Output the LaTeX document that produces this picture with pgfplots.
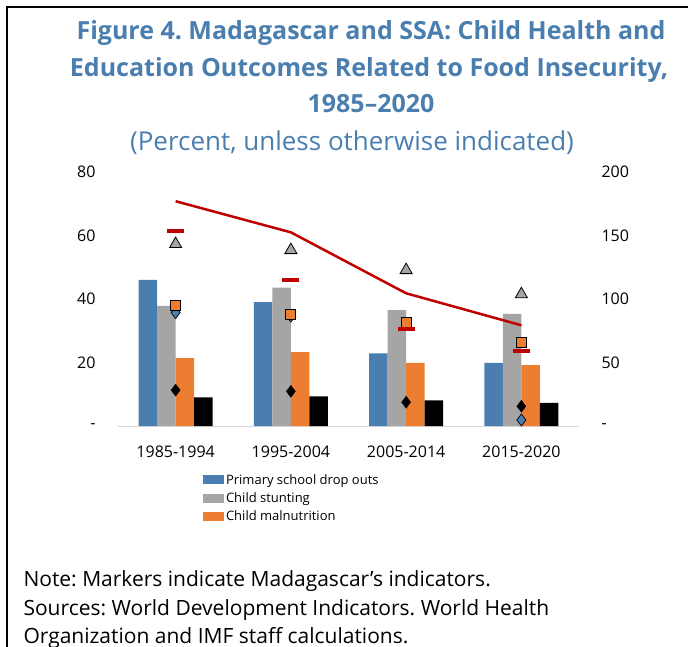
\documentclass[border=0pt]{standalone}
\usepackage{fontspec}
\setmainfont{Open Sans}
\usepackage{pgfplots}
\usepackage{pgfplotstable}
\pgfplotsset{compat=1.18}

\definecolor{ttl}{HTML}{4A7EAF}
\definecolor{cblue}{HTML}{4A7EB0}
\definecolor{cgray}{HTML}{A5A5A5}
\definecolor{corange}{HTML}{ED7D31}
\definecolor{cred}{HTML}{C00000}
\definecolor{base}{HTML}{D9D9D9}

% SSA averages (bars)
\pgfplotstableread{
x drop stunt maln other
0 46.0 37.8 21.4 9.0
1 39.0 43.6 23.3 9.3
2 22.9 36.5 19.9 8.1
3 19.9 35.3 19.2 7.3
}\ssa

% Madagascar (markers)
\pgfplotstableread{
x drop stunt maln other
0 35.7 57.3 38.1 11.3
1 34.6 55.4 35.1 10.9
2 32.0 49.1 32.6 7.5
3 1.9 41.5 26.4 6.2
}\mdg

% right axis: SSA line, Madagascar dashes
\pgfplotstableread{
x ssa mdg
0 177.0 153.5
1 152.5 115.2
2 104.5 76.6
3 79.3 59.3
}\mort

\pgfplotsset{
  sq legend/.style={legend image code/.code={\fill[##1] (0pt,-4.5pt) rectangle (21pt,4.5pt);}},
  frame/.style={scale only axis, width=461pt, height=254pt,
    at={(118pt,-426pt)}, anchor=south west, xmin=-0.5, xmax=3.5},
}

\begin{document}
\frenchspacing
\begin{tikzpicture}
\path[use as bounding box] (0,0) rectangle (688pt,-646pt);
\draw[line width=2pt] (7pt,-660pt) -- (7pt,-7pt) -- (700pt,-7pt);

\begin{axis}[frame,
  ymin=0, ymax=80,
  axis x line*=bottom, axis y line*=left,
  x axis line style={draw=base, line width=1pt},
  y axis line style={draw=none},
  major tick length=0pt,
  xtick={0,1,2,3},
  xticklabels={1985-1994,1995-2004,2005-2014,2015-2020},
  ytick={0,20,40,60,80},
  yticklabels={-,20,40,60,80},
  ticklabel style={font=\fontsize{16}{16}\selectfont},
  yticklabel style={xshift=-19pt},
  xticklabel style={yshift=-16pt},
  bar width=0.16,
  legend style={at={(0.184,-0.181)}, anchor=north west, draw=none,
    font=\fontsize{13}{13}\selectfont, row sep=3pt, inner sep=0pt,
    cells={anchor=west}},
]
\addplot[ybar, sq legend, fill=cblue, draw=none, bar shift=-0.24] table[x=x,y=drop]{\ssa};
\addlegendentry{Primary school drop outs}
\addplot[ybar, sq legend, fill=cgray, draw=none, bar shift=-0.08] table[x=x,y=stunt]{\ssa};
\addlegendentry{Child stunting}
\addplot[ybar, sq legend, fill=corange, draw=none, bar shift=0.08] table[x=x,y=maln]{\ssa};
\addlegendentry{Child malnutrition}
\addplot[ybar, fill=black, draw=none, bar shift=0.24, forget plot] table[x=x,y=other]{\ssa};

\addplot[only marks, mark=diamond*, mark size=6pt, forget plot,
  mark options={fill=cblue, draw=black, line width=0.7pt}] table[x=x,y=drop]{\mdg};
\addplot[only marks, mark=square*, mark size=5pt, forget plot,
  mark options={fill=corange, draw=black, line width=0.8pt}] table[x=x,y=maln]{\mdg};
\addplot[only marks, mark=triangle*, mark size=7pt, forget plot,
  mark options={fill=cgray, draw=black, line width=0.8pt}] table[x=x,y=stunt]{\mdg};
\addplot[only marks, mark=diamond*, mark size=6pt, forget plot,
  mark options={fill=black, draw=black}] table[x=x,y=other]{\mdg};
\end{axis}

\begin{axis}[frame,
  ymin=0, ymax=200,
  axis x line=none, axis y line*=right,
  y axis line style={draw=none},
  major tick length=0pt,
  ytick={0,50,100,150,200},
  yticklabels={-,50,100,150,200},
  ticklabel style={font=\fontsize{16}{16}\selectfont},
  yticklabel style={anchor=west, xshift=19pt},
]
\addplot[cred, line width=2.5pt, no marks] table[x=x,y=ssa]{\mort};
\addplot[only marks, mark=-, mark size=8.5pt,
  mark options={draw=cred, line width=4pt}] table[x=x,y=mdg]{\mort};
\end{axis}

\node[anchor=base, text=ttl, font=\fontsize{25}{25}\selectfont\bfseries] at (371pt,-39pt) {Figure 4. Madagascar and SSA: Child Health and};
\node[anchor=base, text=ttl, font=\fontsize{25}{25}\selectfont\bfseries] at (369pt,-76pt) {Education Outcomes Related to Food Insecurity,};
\node[anchor=base, text=ttl, font=\fontsize{25}{25}\selectfont\bfseries] at (371pt,-112pt) {1985–2020};
\node[anchor=base, text=ttl, font=\fontsize{26}{26}\selectfont] at (352pt,-150pt) {(Percent, unless otherwise indicated)};

\node[anchor=base west, font=\fontsize{21}{21}\selectfont] at (20pt,-586pt) {Note: Markers indicate Madagascar’s indicators.};
\node[anchor=base west, font=\fontsize{21}{21}\selectfont] at (20pt,-615pt) {Sources: World Development Indicators. World Health};
\node[anchor=base west, font=\fontsize{21}{21}\selectfont] at (20pt,-643pt) {Organization and IMF staff calculations.};
\end{tikzpicture}
\end{document}
